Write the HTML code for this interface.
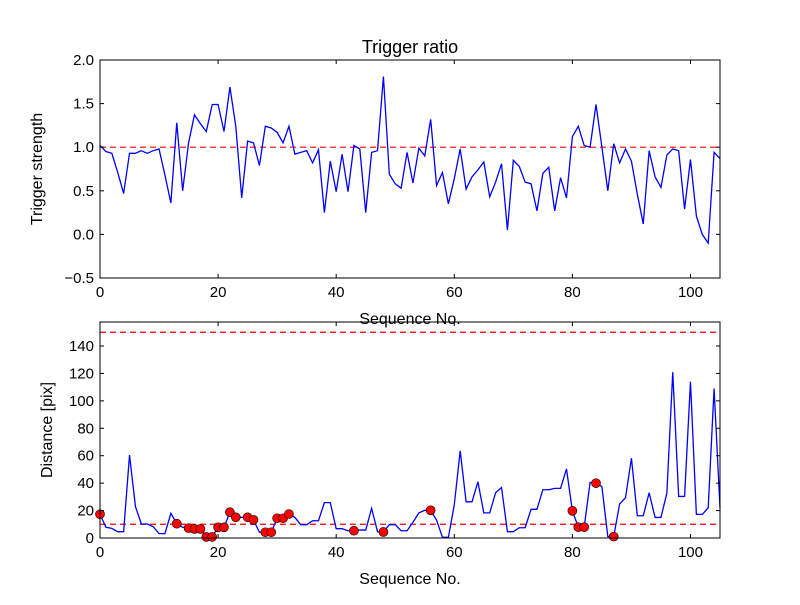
<!DOCTYPE html>
<html><head><meta charset="utf-8"><style>
body{margin:0;background:#fff;font-family:"Liberation Sans",sans-serif}
svg text{font-family:"Liberation Sans",sans-serif}
</style></head><body>
<svg id="c" width="800" height="600" viewBox="0 0 800 600">
<rect width="800" height="600" fill="#fff"/>
</svg>
<script>
const ratio = [1.02,0.95,0.93,0.71,0.47,0.93,0.93,0.96,0.93,0.96,0.98,0.68,0.36,1.28,0.50,1.05,1.37,1.27,1.18,1.49,1.49,1.18,1.69,1.24,0.42,1.07,1.05,0.79,1.24,1.22,1.17,1.05,1.24,0.92,0.94,0.96,0.82,0.97,0.25,0.84,0.49,0.92,0.49,1.02,0.98,0.25,0.94,0.96,1.81,0.69,0.58,0.53,0.94,0.59,0.99,0.90,1.32,0.56,0.71,0.35,0.64,0.98,0.52,0.66,0.74,0.83,0.43,0.60,0.81,0.05,0.85,0.78,0.60,0.58,0.27,0.70,0.77,0.27,0.65,0.42,1.12,1.24,1.02,1.00,1.49,1.00,0.50,1.04,0.82,0.98,0.84,0.46,0.12,0.96,0.66,0.54,0.91,0.98,0.96,0.29,0.86,0.21,0.00,-0.10,0.94,0.87];
const dist = [17.3,7.8,7,4.6,4.6,60.5,23,10.2,10.2,8.3,3.2,3.2,18,10.4,7.8,7.2,6.6,6.6,0.8,0.8,7.8,7.8,18.8,15.1,15.1,15.1,13.2,4.2,4.2,4.2,14.4,14.4,17.5,15,9.7,9.7,12.6,12.6,25.8,25.8,6.8,6.8,5.3,5.3,5.8,5.8,21.6,4.6,4.4,9.7,9.7,5.3,5.3,11.5,18.3,20.2,20.2,13,0.5,0.5,24.2,63.6,26.4,26.4,41,18.3,18.3,33,36.8,4.6,4.6,7.5,7.5,20.9,20.9,35.2,35.2,36.2,36.2,50.4,19.8,7.9,7.9,40.5,40,37.5,1,1,24.8,29.4,58.2,16.2,16.2,33,15,15,32.7,120.9,30.3,30.3,114,17.2,17.2,22,109,22];
const flagged = [0,13,15,16,17,18,19,20,21,22,23,25,26,28,29,30,31,32,43,48,56,80,81,82,84,87];
const xTicks = [0,20,40,60,80,100];
const yTicksTop = [-0.5,0.0,0.5,1.0,1.5,2.0];
const yTicksBot = [0,20,40,60,80,100,120,140];

const svg = document.getElementById('c');
const NS = 'http://www.w3.org/2000/svg';
function mk(tag, attrs, parent){const e=document.createElementNS(NS,tag);for(const k in attrs)e.setAttribute(k,attrs[k]);(parent||svg).appendChild(e);return e;}
const L=100,R=720;
const xs = v => L + (v/105)*(R-L);
const yTop = v => 278 - (v+0.5)/2.5*218;
const yBot = v => 538 - v/157.5*216;

function axes(top,bot,yf,yt,fmt,name){
  const g=mk('g',{});
  
  
  xTicks.forEach(t=>{
    const x=xs(t);
    mk('line',{x1:x,x2:x,y1:bot,y2:bot-4,stroke:'#000'},g);
    mk('line',{x1:x,x2:x,y1:top,y2:top+4,stroke:'#000'},g);
    const tx=mk('text',{x:x,y:bot+19,'font-size':15,'text-anchor':'middle'},g);tx.textContent=t;
    
    
  });
  yt.forEach(t=>{
    const y=yf(t);
    mk('line',{x1:L,x2:L+4,y1:y,y2:y,stroke:'#000'},g);
    mk('line',{x1:R,x2:R-4,y1:y,y2:y,stroke:'#000'},g);
    const tx=mk('text',{x:L-6,y:y+5,'font-size':15,'text-anchor':'end'},g);tx.textContent=fmt(t);
    
    
  });
  return g;
}
function dashed(y,name){const l=mk('line',{x1:L,x2:R,y1:y,y2:y,stroke:'#f00','stroke-width':1.2,'stroke-dasharray':'6,4'});
  
  }
function series(arr,yf,name){const p=mk('polyline',{points:arr.map((v,i)=>xs(i)+','+yf(v)).join(' '),fill:'none',stroke:'#00f','stroke-width':1.3});
  
  }

// top
svg.appendChild(document.createElementNS(NS,'g'));
mk('clipPath',{id:'ct'}).appendChild(document.createElementNS(NS,'rect'));
dashed(yTop(1.0),'threshold-line-top');
series(ratio,yTop,'trigger-ratio-line');
mk('rect',{x:L,y:60,width:R-L,height:218,fill:'none',stroke:'#000'});
axes(60,278,yTop,yTicksTop,t=>t.toFixed(1).replace('-','\u2212'),'top-axes');
let t=mk('text',{x:410,y:53,'font-size':18,'text-anchor':'middle'});t.textContent='Trigger ratio';


t=mk('text',{x:410,y:324,'font-size':16,'text-anchor':'middle'});t.textContent='Sequence No.';


t=mk('text',{x:0,y:0,'font-size':16,'text-anchor':'middle',transform:'translate(42,169) rotate(-90)'});t.textContent='Trigger strength';



// bottom
dashed(yBot(150),'upper-threshold-line');
dashed(yBot(10),'lower-threshold-line');
series(dist,yBot,'distance-line');
flagged.forEach(i=>{
  const c=mk('circle',{cx:xs(i),cy:yBot(dist[i]),r:4.5,fill:'#f00',stroke:'#000','stroke-width':0.6});
  
  
});
mk('rect',{x:L,y:322,width:R-L,height:216,fill:'none',stroke:'#000'});
axes(322,538,yBot,yTicksBot,t=>String(t),'bottom-axes');
t=mk('text',{x:410,y:584,'font-size':16,'text-anchor':'middle'});t.textContent='Sequence No.';


t=mk('text',{x:0,y:0,'font-size':16,'text-anchor':'middle',transform:'translate(52,430) rotate(-90)'});t.textContent='Distance [pix]';


</script>
</body></html>
